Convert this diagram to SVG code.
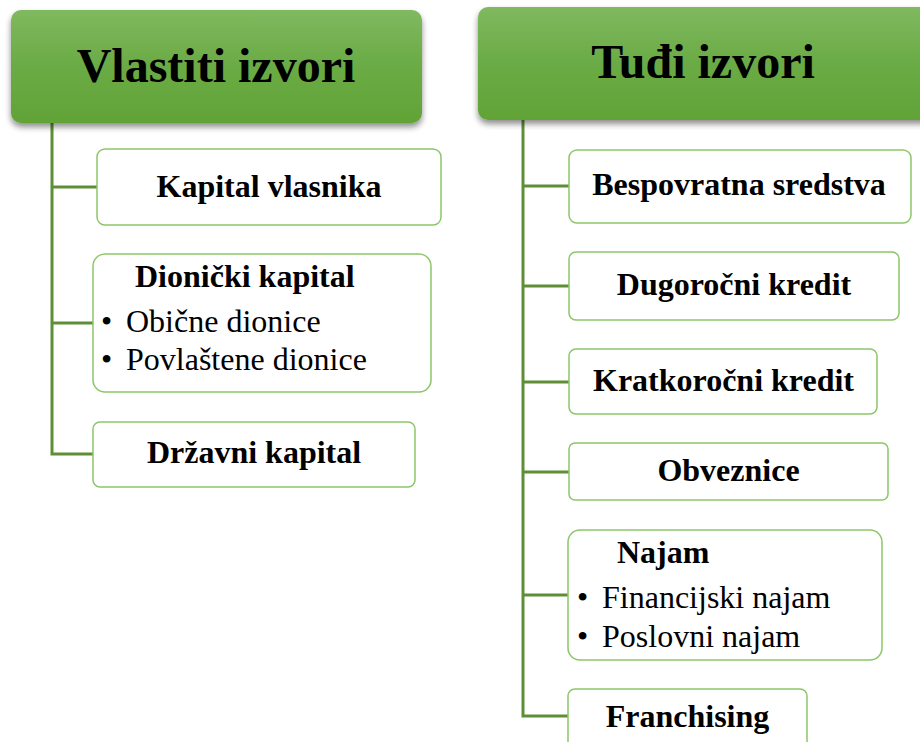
<svg xmlns="http://www.w3.org/2000/svg" width="920" height="742" viewBox="0 0 920 742">
<defs>
<linearGradient id="hg" x1="0" y1="0" x2="0" y2="1">
<stop offset="0" stop-color="#80b960"/>
<stop offset="0.5" stop-color="#6aab45"/>
<stop offset="1" stop-color="#62a337"/>
</linearGradient>
<filter id="sh" x="-5%" y="-10%" width="110%" height="130%">
<feGaussianBlur in="SourceAlpha" stdDeviation="3"/>
<feOffset dx="0" dy="4" result="b"/>
<feComponentTransfer><feFuncA type="linear" slope="0.45"/></feComponentTransfer>
<feMerge><feMergeNode/><feMergeNode in="SourceGraphic"/></feMerge>
</filter>
</defs>
<style>
.hdr{fill:url(#hg);filter:url(#sh);}
.box{fill:#ffffff;stroke:#8dc66a;stroke-width:1.5;}
.con{fill:none;stroke:#5e8f37;stroke-width:3;}
.ht{font-family:"Liberation Serif","Times New Roman",serif;font-weight:bold;font-size:48px;fill:#000;text-anchor:middle;}
.bt{font-family:"Liberation Serif","Times New Roman",serif;font-weight:bold;font-size:32px;fill:#000;text-anchor:middle;}
.tt{font-family:"Liberation Serif","Times New Roman",serif;font-weight:bold;font-size:32px;fill:#000;}
.rt{font-family:"Liberation Serif","Times New Roman",serif;font-size:32px;fill:#000;}
</style>
<g id="connectors">
<path class="con" d="M52 123 V454 H93 M52 187 H97 M52 323 H93"/>
<path class="con" d="M523 120 V716 H568 M523 186 H569 M523 286 H569 M523 382 H569 M523 472 H569 M523 595 H568"/>
</g>
<g id="vlastiti">
<rect class="hdr" x="11" y="10" width="411" height="113" rx="10"/>
<text class="ht" x="216" y="82">Vlastiti izvori</text>
</g>
<g id="tudji">
<rect class="hdr" x="478" y="7" width="460" height="113" rx="10"/>
<text class="ht" x="703" y="78">Tuđi izvori</text>
</g>
<g id="kapital-vlasnika">
<rect class="box" x="97" y="149" width="344" height="76" rx="8"/>
<text class="bt" x="269" y="197">Kapital vlasnika</text>
</g>
<g id="dionicki-kapital">
<rect class="box" x="93" y="254" width="338" height="138" rx="12"/>
<text class="tt" x="135" y="287">Dionički kapital</text>
<text class="rt" x="101" y="332">•</text>
<text class="rt" x="126" y="332">Obične dionice</text>
<text class="rt" x="101" y="370">•</text>
<text class="rt" x="126" y="370">Povlaštene dionice</text>
</g>
<g id="drzavni-kapital">
<rect class="box" x="93" y="422" width="322" height="65" rx="7"/>
<text class="bt" x="254" y="463">Državni kapital</text>
</g>
<g id="bespovratna">
<rect class="box" x="569" y="150" width="342" height="73" rx="8"/>
<text class="bt" x="739" y="195">Bespovratna sredstva</text>
</g>
<g id="dugorocni">
<rect class="box" x="569" y="252" width="330" height="68" rx="7"/>
<text class="bt" x="734" y="295">Dugoročni kredit</text>
</g>
<g id="kratkorocni">
<rect class="box" x="569" y="349" width="308" height="65" rx="7"/>
<text class="bt" x="723.5" y="391">Kratkoročni kredit</text>
</g>
<g id="obveznice">
<rect class="box" x="569" y="443" width="319" height="57" rx="6"/>
<text class="bt" x="728.5" y="481">Obveznice</text>
</g>
<g id="najam">
<rect class="box" x="568" y="530" width="314" height="130" rx="12"/>
<text class="tt" x="617" y="563">Najam</text>
<text class="rt" x="577" y="608">•</text>
<text class="rt" x="602" y="608">Financijski najam</text>
<text class="rt" x="577" y="647">•</text>
<text class="rt" x="602" y="647">Poslovni najam</text>
</g>
<g id="franchising">
<rect class="box" x="568" y="689" width="239" height="70" rx="7"/>
<text class="bt" x="687.5" y="727">Franchising</text>
</g>
</svg>
